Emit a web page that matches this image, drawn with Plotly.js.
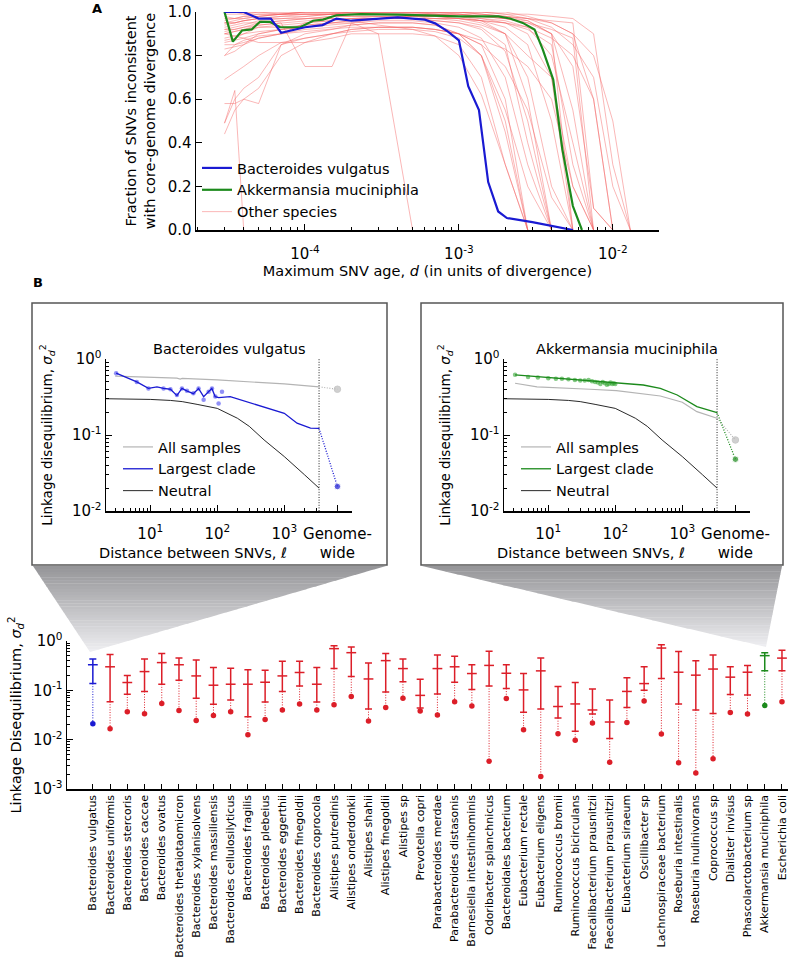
<!DOCTYPE html>
<html><head><meta charset="utf-8">
<script src="https://cdn.plot.ly/plotly-3.0.1.min.js"></script>
<style>html,body{margin:0;padding:0;background:#fff}#chart{width:790px;height:962px}</style>
</head><body><div id="chart"></div>
<script>
// ---------------- Panel A data ----------------
const snvAgeGrid = [3e-5, 3.5e-5, 4e-5, 5e-5, 7e-5, 1e-4, 1.5e-4, 2e-4, 3e-4, 5e-4, 7e-4, 1e-3, 1.4e-3, 2e-3, 2.8e-3, 4e-3, 5.5e-3, 7.5e-3, 1e-2, 1.3e-2];
const bvAge = [3e-5, 4e-5, 5e-5, 6e-5, 7e-5, 8e-5, 1e-4, 1.3e-4, 1.6e-4, 2e-4, 3e-4, 4e-4, 5e-4, 6e-4, 7e-4, 8.5e-4, 1e-3, 1.15e-3, 1.35e-3, 1.55e-3, 1.8e-3, 2.05e-3, 3e-3, 5e-3, 5.5e-3];
const bvFrac = [1.0, 1.0, 0.97, 0.97, 0.905, 0.915, 0.93, 0.94, 0.97, 0.96, 0.97, 0.975, 0.97, 0.965, 0.948, 0.91, 0.87, 0.66, 0.55, 0.22, 0.085, 0.055, 0.036, 0.005, 0];
const amAge = [3e-5, 3.4e-5, 3.9e-5, 4.5e-5, 5.1e-5, 5.9e-5, 6.9e-5, 9.3e-5, 1.13e-4, 1.31e-4, 1.6e-4, 2.3e-4, 4e-4, 6e-4, 1e-3, 1.8e-3, 2.15e-3, 2.6e-3, 3.1e-3, 3.5e-3, 4.1e-3, 4.7e-3, 5.5e-3, 6.3e-3];
const amFrac = [1.0, 0.864, 0.915, 0.92, 0.955, 0.955, 0.93, 0.93, 0.96, 0.965, 0.985, 0.99, 0.988, 0.985, 0.98, 0.98, 0.97, 0.95, 0.92, 0.83, 0.69, 0.37, 0.11, 0];
const otherFrac = [
  [1.0,1.0,0.99,0.99,0.99,1.0,1.0,1.0,1.0,1.0,1.0,1.0,0.99,0.98,0.97,0.95,0.9,0.6,0.0],
  [0.98,0.97,0.97,0.98,0.99,0.99,0.99,1.0,1.0,1.0,0.99,0.99,0.98,0.97,0.95,0.9,0.55,0.0],
  [0.95,0.95,0.96,0.97,0.98,0.98,0.99,0.99,0.99,0.99,0.99,0.98,0.97,0.95,0.9,0.7,0.2,0.0],
  [0.93,0.94,0.95,0.95,0.96,0.97,0.98,0.98,0.98,0.98,0.97,0.97,0.96,0.93,0.85,0.5,0.0],
  [0.9,0.91,0.92,0.94,0.95,0.96,0.97,0.97,0.98,0.98,0.98,0.97,0.95,0.9,0.7,0.2,0.0],
  [0.88,0.89,0.9,0.93,0.94,0.95,0.96,0.97,0.97,0.97,0.96,0.95,0.92,0.82,0.5,0.0],
  [0.83,0.84,0.85,0.9,0.92,0.93,0.94,0.95,0.96,0.96,0.95,0.93,0.88,0.7,0.3,0.0],
  [0.8,0.85,0.87,0.89,0.9,0.91,0.92,0.93,0.93,0.93,0.92,0.9,0.85,0.6,0.0],
  [0.69,0.72,0.75,0.8,0.86,0.88,0.9,0.91,0.92,0.92,0.91,0.88,0.8,0.45,0.0],
  [0.58,0.58,0.6,0.65,0.8,0.86,0.88,0.9,0.9,0.9,0.89,0.85,0.7,0.3,0.0],
  [0.49,0.6,0.65,0.7,0.85,0.88,0.9,0.92,0.93,0.93,0.92,0.9,0.85,0.75,0.55,0.15,0.0],
  [0.44,0.55,0.6,0.58,0.85,0.9,0.92,0.94,0.95,0.95,0.94,0.9,0.8,0.5,0.0],
  [1.0,1.0,1.0,1.0,1.0,1.0,1.0,1.0,1.0,1.0,1.0,1.0,1.0,1.0,0.98,0.95,0.9,0.8,0.5,0.0],
  [0.97,0.97,0.98,0.99,0.99,1.0,1.0,1.0,1.0,1.0,1.0,1.0,1.0,0.99,0.97,0.93,0.85,0.7,0.2,0.0],
  [0.92,0.93,0.94,0.96,0.97,0.98,0.99,0.99,0.99,0.99,0.99,0.99,0.98,0.97,0.96,0.9,0.75,0.1,0.0],
  [0.85,0.85,0.86,0.88,0.9,0.95,0.96,0.97,0.97,0.98,0.98,0.97,0.96,0.95,0.92,0.85,0.3,0.0],
  [0.9,0.89,0.88,0.86,0.86,0.86,0.9,0.92,0.93,0.93,0.92,0.9,0.87,0.83,0.75,0.6,0.2,0.0],
  [0.95,0.95,0.96,0.97,0.97,0.97,0.97,0.96,0.94,0.92,0.89,0.8,0.62,0.3,0.0],
  [0.92,0.92,0.93,0.94,0.95,0.75,0.75,0.95,0.97,0.98,0.98,0.98,0.97,0.96,0.93,0.8,0.4,0.0],
  [0.9,0.91,0.92,0.93,0.93,0.94,0.95,0.95,0.9,0.0],
  [0.49,0.64,0.0],
  [1.0,1.0,1.0,1.0,0.99,0.99,0.99,1.0,1.0,1.0,1.0,1.0,0.99,0.98,0.96,0.9,0.0],
  [0.96,0.97,0.98,0.98,0.99,0.99,0.99,0.99,0.99,0.99,0.99,0.98,0.96,0.9,0.6,0.0],
  [0.99,0.99,0.99,1.0,1.0,1.0,1.0,1.0,1.0,1.0,1.0,0.99,0.99,0.98,0.97,0.96,0.95,0.1,0.0],
  [0.94,0.95,0.96,0.97,0.98,0.99,0.99,0.99,0.99,0.99,0.99,0.99,0.98,0.97,0.95,0.92,0.88,0.0],
  [0.86,0.87,0.88,0.9,0.92,0.94,0.95,0.96,0.97,0.97,0.97,0.96,0.94,0.9,0.8,0.7,0.0],
  [0.91,0.92,0.93,0.95,0.96,0.97,0.98,0.98,0.98,0.97,0.96,0.95,0.93,0.85,0.4,0.0],
  [0.87,0.88,0.9,0.91,0.92,0.93,0.95,0.96,0.97,0.97,0.97,0.97,0.96,0.95,0.93,0.88,0.8,0.6,0.0],
  [0.95,0.96,0.97,0.98,0.99,1.0,1.0,1.0,1.0,1.0,1.0,1.0,1.0,0.99,0.99,0.98,0.97,0.9,0.3,0.0],
  [0.8,0.82,0.85,0.88,0.9,0.92,0.93,0.94,0.95,0.95,0.94,0.9,0.8,0.55,0.2,0.0]
];
const ageTickVals = [1e-4, 1e-3, 1e-2];
const ageTickText = ['10<sup>-4</sup>', '10<sup>-3</sup>', '10<sup>-2</sup>'];

// ---------------- Panel B insets ----------------
const ldMaxDist = 3300;
const genomeWidePos = 6200;
const distTickVals = [10, 100, 1000, genomeWidePos];
const distTickText = ['10<sup>1</sup>', '10<sup>2</sup>', '10<sup>3</sup>', 'Genome-<br>wide'];
const ldTickVals = [0.01, 0.1, 1];
const ldTickText = ['10<sup>-2</sup>', '10<sup>-1</sup>', '10<sup>0</sup>'];

const neutralDist = [2.2, 5, 10, 20, 30, 50, 100, 200, 300, 500, 1000, 2000, 3300];
const neutralLD = [0.30, 0.298, 0.294, 0.285, 0.275, 0.253, 0.224, 0.166, 0.13, 0.086, 0.052, 0.030, 0.020];

const bvAllDist = [3, 10, 25, 28, 30, 100, 300, 1000, 3300];
const bvAllLD = [0.597, 0.574, 0.56, 0.545, 0.557, 0.53, 0.50, 0.47, 0.43];
const bvAllGenome = 0.40;
const bvCladeDist = [3.1, 6.3, 9.4, 12.6, 15.8, 20, 25, 29.7, 35, 44, 52.6, 62.6, 74, 83, 93, 105, 156, 276, 490, 1000, 1550, 2460, 3300];
const bvCladeLD = [0.65, 0.50, 0.41, 0.43, 0.41, 0.40, 0.33, 0.41, 0.38, 0.35, 0.41, 0.32, 0.37, 0.41, 0.32, 0.31, 0.32, 0.275, 0.236, 0.193, 0.143, 0.123, 0.122];
const bvPtsDist = [3.1, 6.3, 9.4, 15.8, 20, 25, 29.7, 35.3, 44, 52.6, 62.6, 74.3, 83.4, 93.4, 104.7, 117.6];
const bvPtsLD = [0.65, 0.50, 0.41, 0.41, 0.40, 0.336, 0.41, 0.383, 0.353, 0.41, 0.29, 0.37, 0.41, 0.32, 0.26, 0.37];
const bvCladeGenome = 0.021;

const amAllDist = [3.2, 6.8, 42, 104, 470, 1000, 1650, 3300];
const amAllLD = [0.48, 0.43, 0.40, 0.383, 0.326, 0.27, 0.203, 0.166];
const amAllGenome = 0.086;
const amCladeDist = [3.2, 15, 42, 104, 262, 470, 840, 1650, 3300];
const amCladeLD = [0.62, 0.557, 0.52, 0.48, 0.455, 0.41, 0.336, 0.236, 0.197];
const amPtsDist = [3.2, 5, 7, 10, 13, 16, 20, 25, 30, 35, 40, 45, 50, 55, 60, 65, 70, 75, 80, 85, 90, 95, 100];
const amPtsLD = [0.62, 0.58, 0.57, 0.56, 0.55, 0.55, 0.54, 0.53, 0.52, 0.52, 0.53, 0.51, 0.50, 0.49, 0.47, 0.50, 0.48, 0.46, 0.47, 0.49, 0.47, 0.48, 0.47];
const amCladeGenome = 0.048;

// ---------------- Panel B bottom ----------------
const species = ['Bacteroides vulgatus','Bacteroides uniformis','Bacteroides stercoris','Bacteroides caccae','Bacteroides ovatus','Bacteroides thetaiotaomicron','Bacteroides xylanisolvens','Bacteroides massiliensis','Bacteroides cellulosilyticus','Bacteroides fragilis','Bacteroides plebeius','Bacteroides eggerthii','Bacteroides finegoldii','Bacteroides coprocola','Alistipes putredinis','Alistipes onderdonkii','Alistipes shahii','Alistipes finegoldii','Alistipes sp','Prevotella copri','Parabacteroides merdae','Parabacteroides distasonis','Barnesiella intestinihominis','Odoribacter splanchnicus','Bacteroidales bacterium','Eubacterium rectale','Eubacterium eligens','Ruminococcus bromii','Ruminococcus bicirculans','Faecalibacterium prausnitzii','Faecalibacterium prausnitzii','Eubacterium siraeum','Oscillibacter sp','Lachnospiraceae bacterium','Roseburia intestinalis','Roseburia inulinivorans','Coprococcus sp','Dialister invisus','Phascolarctobacterium sp','Akkermansia muciniphila','Escherichia coli'];
const ldTop = [0.43,0.53,0.20,0.43,0.555,0.45,0.41,0.29,0.28,0.26, 0.255,0.39,0.39,0.29,0.80,0.76,0.36,0.555,0.43,0.168, 0.52,0.49,0.33,0.62,0.33, 0.219,0.45,0.119,0.144,0.106,0.064,0.18,0.30,0.84,0.61,0.40,0.52,0.30,0.32,0.58,0.65];
const ldMid = [0.33,0.30,0.144,0.24,0.365,0.33,0.196,0.127,0.133,0.133, 0.146,0.196,0.23,0.133,0.70,0.58,0.17,0.40,0.276,0.079, 0.276,0.30,0.219,0.32,0.222, 0.102,0.248,0.047,0.053,0.040,0.0228,0.095,0.137,0.72,0.233,0.203,0.27,0.185,0.233,0.505,0.45];
const ldBot = [0.137,0.059,0.083,0.095,0.133,0.16,0.0695,0.052,0.064,0.029, 0.058,0.095,0.122,0.058,0.276,0.19,0.0417,0.092,0.15,0.044, 0.084,0.146,0.104,0.123,0.109, 0.036,0.0417,0.0274,0.0148,0.033,0.0105,0.045,0.10,0.174,0.053,0.040,0.034,0.082,0.08,0.248,0.248];
const ldGenome = [0.021,0.0167,0.037,0.0335,0.054,0.039,0.0245,0.031,0.037,0.0126, 0.0257,0.040,0.053,0.040,0.051,0.075,0.024,0.045,0.0695,0.038, 0.0316,0.0586,0.048,0.00365,0.068, 0.0159,0.0018,0.0132,0.0097,0.0218,0.0035,0.0224,0.061,0.013,0.0034,0.0021,0.0041,0.0356,0.033,0.049,0.0586];
const bottomTickVals = [0.001, 0.01, 0.1, 1];
const bottomTickText = ['10<sup>-3</sup>', '10<sup>-2</sup>', '10<sup>-1</sup>', '10<sup>0</sup>'];

// ---------------- styling ----------------
const W = 790, H = 962;
const px = v => v / W, py = v => 1 - v / H;
const BLUE = '#1a1ad2', GREEN = '#1c8a1c', RED = '#dc1e28';
const BLUE_LT = 'rgba(70,70,240,0.6)', GREEN_LT = 'rgba(50,165,50,0.6)';
const GRAY = '#b4b4b4';
const FONT = 'DejaVu Sans, Liberation Sans, sans-serif';
const DOT = '1px,1.6px';

function minorLog(lo, hi, maxVal) {
  const out = [];
  for (let d = lo; d <= hi; d++) for (let m = 2; m <= 9; m++) {
    const v = m * Math.pow(10, d);
    if (maxVal === undefined || v <= maxVal) out.push(v);
  }
  return out;
}

const traces = [];
// Panel A
otherFrac.forEach((ys, k) => {
  traces.push({x: snvAgeGrid.slice(0, ys.length), y: ys, mode: 'lines', type: 'scatter', xaxis: 'x', yaxis: 'y',
    line: {color: 'rgba(245,95,95,0.45)', width: 1}, name: 'Other species', showlegend: k === 0,
    legendrank: 3, legendgroup: 'other', cliponaxis: false, hoverinfo: 'skip'});
});
traces.push({x: amAge, y: amFrac, mode: 'lines', xaxis: 'x', yaxis: 'y', line: {color: GREEN, width: 2.2},
  name: 'Akkermansia muciniphila', legendrank: 2, cliponaxis: false});
traces.push({x: bvAge, y: bvFrac, mode: 'lines', xaxis: 'x', yaxis: 'y', line: {color: BLUE, width: 2.2},
  name: 'Bacteroides vulgatus', legendrank: 1, cliponaxis: false});

// Inset helper
function inset(xa, ya, leg, allD, allY, allG, clD, clY, ptD, ptY, clG, col, colLt) {
  const lastA = allD.length - 1, lastC = clD.length - 1;
  traces.push({x: [ldMaxDist, ldMaxDist], y: [0.01, 1], mode: 'lines', xaxis: xa, yaxis: ya, showlegend: false,
    line: {color: '#222', width: 1, dash: DOT}, cliponaxis: false});
  traces.push({x: allD, y: allY, mode: 'lines', xaxis: xa, yaxis: ya, legend: leg, name: 'All samples', legendrank: 1,
    line: {color: GRAY, width: 1.2}});
  traces.push({x: [allD[lastA], genomeWidePos], y: [allY[lastA], allG], mode: 'lines+markers', xaxis: xa, yaxis: ya,
    showlegend: false, line: {color: GRAY, width: 1.2, dash: DOT}, marker: {size: [0, 6.5], color: '#bdbdbd'}, cliponaxis: false});
  traces.push({x: neutralDist, y: neutralLD, mode: 'lines', xaxis: xa, yaxis: ya, legend: leg, name: 'Neutral', legendrank: 3,
    line: {color: '#111', width: 0.9}});
  traces.push({x: ptD, y: ptY, mode: 'markers', xaxis: xa, yaxis: ya, showlegend: false,
    marker: {size: 4.5, color: colLt}});
  traces.push({x: clD, y: clY, mode: 'lines', xaxis: xa, yaxis: ya, legend: leg, name: 'Largest clade', legendrank: 2,
    line: {color: col, width: 1.3}});
  traces.push({x: [clD[lastC], genomeWidePos], y: [clY[lastC], clG], mode: 'lines+markers', xaxis: xa, yaxis: ya,
    showlegend: false, line: {color: col, width: 1.3, dash: DOT}, marker: {size: [0, 6.5], color: col}, cliponaxis: false});
}
inset('x2', 'y2', 'legend2', bvAllDist, bvAllLD, bvAllGenome, bvCladeDist, bvCladeLD, bvPtsDist, bvPtsLD, bvCladeGenome, BLUE, BLUE_LT);
inset('x3', 'y3', 'legend3', amAllDist, amAllLD, amAllGenome, amCladeDist, amCladeLD, amPtsDist, amPtsLD, amCladeGenome, GREEN, GREEN_LT);

// Bottom panel
function groupColor(i) { return i === 0 ? BLUE : (species[i] === 'Akkermansia muciniphila' ? GREEN : RED); }
[BLUE, RED, GREEN].forEach(col => {
  const idx = species.map((s, i) => i).filter(i => groupColor(i) === col);
  const dx = [], dy = [];
  idx.forEach(i => { dx.push(i, i, null); dy.push(ldBot[i], ldGenome[i], null); });
  traces.push({x: dx, y: dy, mode: 'lines', xaxis: 'x4', yaxis: 'y4', showlegend: false,
    line: {color: col, width: 1, dash: DOT}, connectgaps: false});
  traces.push({x: idx, y: idx.map(i => ldMid[i]), mode: 'markers', xaxis: 'x4', yaxis: 'y4', showlegend: false,
    marker: {symbol: 'line-ew-open', size: 7, color: col, line: {color: col, width: 1.5}},
    error_y: {type: 'data', symmetric: false, array: idx.map(i => ldTop[i] - ldMid[i]),
      arrayminus: idx.map(i => ldMid[i] - ldBot[i]), color: col, thickness: 1.5, width: 3.5}});
  traces.push({x: idx, y: idx.map(i => ldGenome[i]), mode: 'markers', xaxis: 'x4', yaxis: 'y4', showlegend: false,
    marker: {size: 5.5, color: col}});
});

// Shapes: inset frames and gradient connectors
const shapes = [];
function rectPx(x0, y0, x1, y1) {
  shapes.push({type: 'rect', xref: 'paper', yref: 'paper', x0: px(x0), x1: px(x1), y0: py(y0), y1: py(y1),
    line: {color: '#555', width: 1.5}, fillcolor: 'rgba(0,0,0,0)', layer: 'above'});
}
rectPx(32, 303, 387, 565);
rectPx(421, 303, 783, 565);
function triangle(x0, x1, yTop, ax, ay) {
  const N = 30;
  for (let k = 0; k < N; k++) {
    const t0 = k / N, t1 = Math.min(1, (k + 1) / N + 0.004);
    const lx0 = x0 + (ax - x0) * t0, rx0 = x1 + (ax - x1) * t0, y0 = yTop + (ay - yTop) * t0;
    const lx1 = x0 + (ax - x0) * t1, rx1 = x1 + (ax - x1) * t1, y1 = yTop + (ay - yTop) * t1;
    const c = Math.round(148 + (238 - 148) * (k + 0.5) / N);
    shapes.push({type: 'path', xref: 'paper', yref: 'paper', layer: 'below',
      path: `M ${px(lx0)} ${py(y0)} L ${px(rx0)} ${py(y0)} L ${px(rx1)} ${py(y1)} L ${px(lx1)} ${py(y1)} Z`,
      fillcolor: `rgb(${c},${c},${c + 3})`, line: {width: 0}});
  }
}
triangle(33, 386, 566, 90, 652);
triangle(422, 782, 566, 766, 647);

const axisBase = {showgrid: false, zeroline: false, showline: true, linecolor: '#000', mirror: false,
  ticks: 'inside', tickcolor: '#000', tickwidth: 1, ticklen: 6, tickfont: {size: 15, color: '#000'}};

const legBase = {xanchor: 'left', yanchor: 'top', bgcolor: 'rgba(0,0,0,0)', font: {size: 14.5, color: '#000'},
  itemwidth: 30, tracegroupgap: 0};

function ann(text, x, y, size) {
  return {text: text, x: px(x), y: py(y), xref: 'paper', yref: 'paper', xanchor: 'center', yanchor: 'middle',
    showarrow: false, font: {size: size}};
}

const layout = {
  width: W, height: H, margin: {l: 0, r: 0, t: 0, b: 0}, paper_bgcolor: '#fff', plot_bgcolor: 'rgba(0,0,0,0)',
  font: {family: FONT, color: '#000'}, hovermode: false,
  xaxis: Object.assign({}, axisBase, {domain: [px(196), px(659)], anchor: 'y', type: 'log', range: [-4.708, -1.70],
    tickvals: ageTickVals, ticktext: ageTickText, linewidth: 2, ticklabelstandoff: 9,
    minor: {tickvals: minorLog(-5, -2), ticks: 'inside', ticklen: 3, tickcolor: '#000'},
    title: {text: 'Maximum SNV age, <i>d</i> (in units of divergence)', font: {size: 14.5}, standoff: 4}}),
  yaxis: Object.assign({}, axisBase, {domain: [py(230), py(12)], anchor: 'x', range: [0, 1.0], dtick: 0.2,
    tickformat: '.1f', linewidth: 1.5,
    title: {text: 'Fraction of SNVs inconsistent<br>with core-genome divergence', font: {size: 14.5}, standoff: 8}}),
  xaxis2: Object.assign({}, axisBase, {domain: [px(106), px(352)], anchor: 'y2', type: 'log', range: [0.34, 4.01],
    tickvals: distTickVals, ticktext: distTickText, linewidth: 1.5, ticklabelstandoff: 8,
    minor: {tickvals: minorLog(0, 3, 3000), ticks: 'inside', ticklen: 3, tickcolor: '#000'}}),
  yaxis2: Object.assign({}, axisBase, {domain: [py(511), py(359)], anchor: 'x2', type: 'log', range: [-2, 0],
    tickvals: ldTickVals, ticktext: ldTickText, linewidth: 1.5,
    minor: {tickvals: minorLog(-2, -1), ticks: 'inside', ticklen: 3, tickcolor: '#000'},
    title: {text: 'Linkage disequilibrium, <i>σ</i><sub><i>d</i></sub><sup>2</sup>', font: {size: 13.5}, standoff: 16}}),
  xaxis3: Object.assign({}, axisBase, {domain: [px(504), px(750)], anchor: 'y3', type: 'log', range: [0.34, 4.01],
    tickvals: distTickVals, ticktext: distTickText, linewidth: 1.5, ticklabelstandoff: 8,
    minor: {tickvals: minorLog(0, 3, 3000), ticks: 'inside', ticklen: 3, tickcolor: '#000'}}),
  yaxis3: Object.assign({}, axisBase, {domain: [py(511), py(359)], anchor: 'x3', type: 'log', range: [-2, 0],
    tickvals: ldTickVals, ticktext: ldTickText, linewidth: 1.5,
    minor: {tickvals: minorLog(-2, -1), ticks: 'inside', ticklen: 3, tickcolor: '#000'},
    title: {text: 'Linkage disequilibrium, <i>σ</i><sub><i>d</i></sub><sup>2</sup>', font: {size: 13.5}, standoff: 16}}),
  xaxis4: Object.assign({}, axisBase, {domain: [px(67), px(788)], anchor: 'y4', range: [-1.5, 40.35],
    tickvals: species.map((s, i) => i), ticktext: species, tickangle: -90, tickfont: {size: 11, color: '#000'},
    ticklen: 5, linewidth: 1.5}),
  yaxis4: Object.assign({}, axisBase, {domain: [py(789), py(641)], anchor: 'x4', type: 'log', range: [-3, 0],
    tickvals: bottomTickVals, ticktext: bottomTickText, linewidth: 1.5,
    minor: {tickvals: minorLog(-3, -1), ticks: 'inside', ticklen: 3, tickcolor: '#000'},
    title: {text: 'Linkage Disequilibrium, <i>σ</i><sub><i>d</i></sub><sup>2</sup>', font: {size: 14.5}, standoff: 8}}),
  legend: Object.assign({}, legBase, {x: px(197), y: py(152)}),
  legend2: Object.assign({}, legBase, {x: px(118), y: py(431)}),
  legend3: Object.assign({}, legBase, {x: px(516), y: py(431)}),
  shapes: shapes,
  annotations: [
    ann('<b>A</b>', 97, 8, 13),
    ann('<b>B</b>', 38, 283, 13),
    ann('Bacteroides vulgatus', 229, 349, 14.5),
    ann('Akkermansia muciniphila', 627, 349, 14.5),
    ann('Distance between SNVs, <i>ℓ</i>', 193, 553, 14.5),
    ann('Distance between SNVs, <i>ℓ</i>', 591, 553, 14.5)
  ]
};

Plotly.newPlot('chart', traces, layout, {staticPlot: true, displayModeBar: false});
</script>
</body></html>
